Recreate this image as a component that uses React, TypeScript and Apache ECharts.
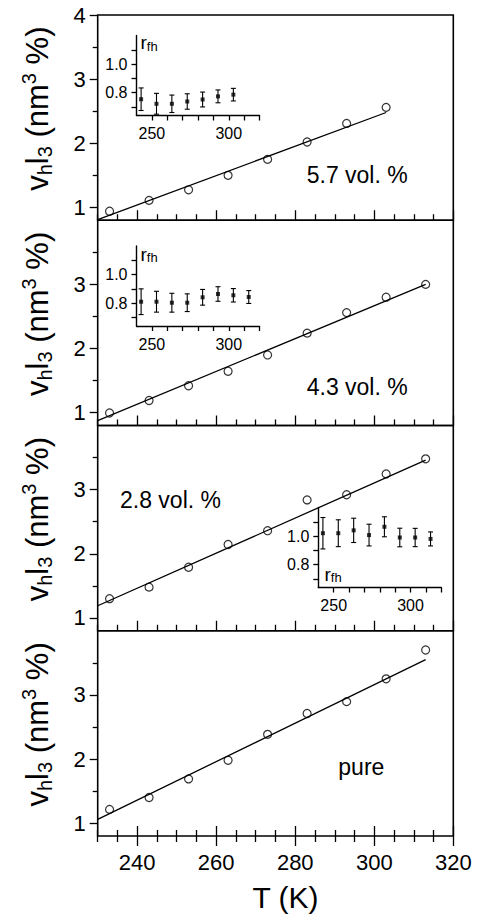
import React, { useEffect, useRef } from 'react';
import * as echarts from 'echarts';

const FONT = '"Liberation Sans", Arial, Helvetica, sans-serif';

// ---- main panels: temperature (K) and v_h l_3 (nm^3 %) ----
const T_8 = [233, 243, 253, 263, 273, 283, 293, 303];
const T_9 = [233, 243, 253, 263, 273, 283, 293, 303, 313];
const V_57 = [0.94, 1.11, 1.275, 1.5, 1.75, 2.02, 2.31, 2.56];
const V_43 = [0.995, 1.19, 1.42, 1.645, 1.9, 2.24, 2.56, 2.8, 3.0];
const V_28 = [1.3, 1.48, 1.79, 2.145, 2.36, 2.84, 2.92, 3.245, 3.48];
const V_PURE = [1.215, 1.4, 1.69, 1.98, 2.385, 2.71, 2.895, 3.25, 3.7];

// linear fits (end points)
const FIT_T_57 = [230, 303];
const FIT_V_57 = [0.81, 2.48];
const FIT_T_43 = [230, 313];
const FIT_V_43 = [0.875, 3.0];
const FIT_T_28 = [230, 313];
const FIT_V_28 = [1.19, 3.46];
const FIT_T_PURE = [230, 313];
const FIT_V_PURE = [1.06, 3.55];

const PANEL_NAMES = ['5.7 vol. %', '4.3 vol. %', '2.8 vol. %', 'pure'];

// ---- insets: r_fh with error bars ----
const RT_7 = [243, 253, 263, 273, 283, 293, 303];
const RT_8 = [243, 253, 263, 273, 283, 293, 303, 313];
const R_57 = [0.754, 0.722, 0.722, 0.738, 0.752, 0.774, 0.786];
const RE_57 = [0.079, 0.073, 0.061, 0.054, 0.052, 0.045, 0.044];
const R_43 = [0.81, 0.81, 0.803, 0.803, 0.841, 0.864, 0.855, 0.843];
const RE_43 = [0.09, 0.073, 0.066, 0.062, 0.055, 0.051, 0.047, 0.045];
const R_28 = [1.02, 1.02, 1.04, 1.007, 1.065, 0.99, 0.99, 0.98];
const RE_28 = [0.11, 0.094, 0.085, 0.076, 0.07, 0.065, 0.064, 0.049];

// ---- tick values ----
const X_MAJOR = [240, 260, 280, 300, 320];
const X_MINOR = [230, 235, 245, 250, 255, 265, 270, 275, 285, 290, 295, 305, 310, 315];
const Y_MAJOR = [1, 2, 3, 4];
const Y_MAJOR_LOWER = [1, 2, 3];
const Y_MINOR = [1.5, 2.5, 3.5];
const IX_TICKS = [250, 260, 270, 280, 290, 300, 310, 320];
const IX_LABELS = [250, 300];
const IY_TICKS = [0.7, 0.8, 0.9, 1.0, 1.1];
const IY_LABELS = [0.8, 1.0];

function buildOption() {
  const L = 97.7;
  const W = 355.6;
  const TOP = 15;
  const H = 205.25;
  const black = '#000';

  const grids: any[] = [];
  for (let i = 0; i < 4; i++) {
    grids.push({
      left: L, width: W, top: TOP + i * H, height: H,
      show: true, borderColor: black, borderWidth: 1.6, backgroundColor: 'transparent',
    });
  }
  const insetPos = [
    { left: 136.5, top: 35.5 },
    { left: 136.5, top: 246 },
    { left: 318.3, top: 507.5 },
  ];
  insetPos.forEach((p) => grids.push({ left: p.left, top: p.top, width: 123, height: 80, show: false }));

  const xAxes: any[] = [];
  const yAxes: any[] = [];
  const tickStyle = { color: black, width: 1.3 };

  for (let i = 0; i < 4; i++) {
    xAxes.push({
      type: 'value', gridIndex: i, position: 'bottom', min: 230, max: 320,
      axisLine: { show: false, onZero: false }, splitLine: { show: false },
      axisTick: { show: true, inside: true, length: 10, lineStyle: tickStyle, customValues: X_MAJOR },
      axisLabel: { show: false },
    });
    xAxes.push({
      type: 'value', gridIndex: i, position: 'bottom', min: 230, max: 320,
      axisLine: { show: false, onZero: false }, splitLine: { show: false },
      axisTick: { show: true, inside: true, length: 6, lineStyle: tickStyle, customValues: X_MINOR },
      axisLabel: { show: false },
    });
    yAxes.push({
      type: 'value', gridIndex: i, position: 'left', min: 0.8, max: 4,
      axisLine: { show: false, onZero: false }, splitLine: { show: false },
      axisTick: { show: true, inside: false, length: 8, lineStyle: tickStyle, customValues: i === 0 ? Y_MAJOR : Y_MAJOR_LOWER },
      axisLabel: {
        show: true, customValues: i === 0 ? Y_MAJOR : Y_MAJOR_LOWER, fontSize: 22, margin: 12,
        color: black, fontFamily: FONT,
      },
    });
    yAxes.push({
      type: 'value', gridIndex: i, position: 'left', min: 0.8, max: 4,
      axisLine: { show: false, onZero: false }, splitLine: { show: false },
      axisTick: { show: true, inside: false, length: 5, lineStyle: tickStyle, customValues: Y_MINOR },
      axisLabel: { show: false },
    });
  }
  // outward ticks + labels on bottom panel (index 8, 9)
  xAxes.push({
    type: 'value', gridIndex: 3, position: 'bottom', min: 230, max: 320,
    axisLine: { show: false, onZero: false }, splitLine: { show: false },
    axisTick: { show: true, inside: false, length: 10, lineStyle: tickStyle, customValues: X_MAJOR },
    axisLabel: { show: true, customValues: X_MAJOR, fontSize: 22, margin: 15, color: black, fontFamily: FONT },
  });
  xAxes.push({
    type: 'value', gridIndex: 3, position: 'bottom', min: 230, max: 320,
    axisLine: { show: false, onZero: false }, splitLine: { show: false },
    axisTick: { show: true, inside: false, length: 6, lineStyle: tickStyle, customValues: X_MINOR },
    axisLabel: { show: false },
  });
  // insets x: 10,11,12 ; y: 8,9,10
  for (let j = 0; j < 3; j++) {
    xAxes.push({
      type: 'value', gridIndex: 4 + j, position: 'bottom', min: 240, max: 320,
      axisLine: { show: true, onZero: false, lineStyle: { color: black, width: 1.4 } },
      splitLine: { show: false },
      axisTick: { show: true, inside: false, length: 5, lineStyle: tickStyle, customValues: IX_TICKS },
      axisLabel: { show: true, customValues: IX_LABELS, fontSize: 16, margin: 10, color: black, fontFamily: FONT },
    });
    yAxes.push({
      type: 'value', gridIndex: 4 + j, position: 'left', min: 0.64, max: 1.2,
      axisLine: { show: true, onZero: false, lineStyle: { color: black, width: 1.4 } },
      splitLine: { show: false },
      axisTick: { show: true, inside: false, length: 5, lineStyle: tickStyle, customValues: IY_TICKS },
      axisLabel: {
        show: true, customValues: IY_LABELS, fontSize: 16, margin: 9, color: black, fontFamily: FONT,
        formatter: (v: number) => v.toFixed(1),
      },
    });
  }

  const mainSets = [
    { t: T_8, v: V_57, ft: FIT_T_57, fv: FIT_V_57 },
    { t: T_9, v: V_43, ft: FIT_T_43, fv: FIT_V_43 },
    { t: T_9, v: V_28, ft: FIT_T_28, fv: FIT_V_28 },
    { t: T_9, v: V_PURE, ft: FIT_T_PURE, fv: FIT_V_PURE },
  ];
  const series: any[] = [];
  mainSets.forEach((s, i) => {
    series.push({
      type: 'line', xAxisIndex: 2 * i, yAxisIndex: 2 * i,
      data: s.ft.map((t, k) => [t, s.fv[k]]),
      showSymbol: false, symbol: 'none', lineStyle: { color: black, width: 1.3 }, z: 2,
    });
    series.push({
      type: 'scatter', xAxisIndex: 2 * i, yAxisIndex: 2 * i,
      data: s.t.map((t, k) => [t, s.v[k]]),
      symbol: 'circle', symbolSize: 8,
      itemStyle: { color: 'rgba(255,255,255,0)', borderColor: black, borderWidth: 1.2 }, z: 3,
    });
  });

  const insetSets = [
    { t: RT_7, r: R_57, e: RE_57 },
    { t: RT_8, r: R_43, e: RE_43 },
    { t: RT_8, r: R_28, e: RE_28 },
  ];
  insetSets.forEach((s, j) => {
    series.push({
      type: 'custom', xAxisIndex: 10 + j, yAxisIndex: 8 + j,
      data: s.t.map((t, k) => [t, s.r[k] - s.e[k], s.r[k] + s.e[k]]),
      encode: { x: 0, y: [1, 2] },
      renderItem: (params: any, api: any) => {
        const x = api.value(0);
        const p1 = api.coord([x, api.value(1)]);
        const p2 = api.coord([x, api.value(2)]);
        const w = 2.5;
        const st = { stroke: black, lineWidth: 1.1 };
        return {
          type: 'group',
          children: [
            { type: 'line', shape: { x1: p1[0], y1: p1[1], x2: p2[0], y2: p2[1] }, style: st },
            { type: 'line', shape: { x1: p1[0] - w, y1: p1[1], x2: p1[0] + w, y2: p1[1] }, style: st },
            { type: 'line', shape: { x1: p2[0] - w, y1: p2[1], x2: p2[0] + w, y2: p2[1] }, style: st },
          ],
        };
      },
      z: 3,
    });
    series.push({
      type: 'scatter', xAxisIndex: 10 + j, yAxisIndex: 8 + j,
      data: s.t.map((t, k) => [t, s.r[k]]),
      symbol: 'rect', symbolSize: 4, itemStyle: { color: black }, z: 4,
    });
  });

  const yTitle = (cy: number) => ({
    type: 'text', x: 37, y: cy, rotation: Math.PI / 2,
    style: {
      text: '{a|v}{b|h}{a|l}{b|3}{a| (nm}{c|3}{a| %)}',
      align: 'center', verticalAlign: 'middle', fill: black,
      rich: {
        a: { fontSize: 31, lineHeight: 36, fontFamily: FONT, fill: black },
        b: { fontSize: 20, lineHeight: 16, verticalAlign: 'bottom', fontFamily: FONT, fill: black },
        c: { fontSize: 20, lineHeight: 20, verticalAlign: 'top', fontFamily: FONT, fill: black },
      },
    },
  });
  const rfh = (x: number, y: number) => ({
    type: 'text', x, y,
    style: {
      text: '{r|r}{s|fh}', align: 'left', verticalAlign: 'middle', fill: black,
      rich: {
        r: { fontSize: 19, lineHeight: 20, fontFamily: FONT, fill: black },
        s: { fontSize: 13, lineHeight: 11, verticalAlign: 'bottom', fontFamily: FONT, fill: black },
      },
    },
  });
  const note = (text: string, x: number, y: number) => ({
    type: 'text', x, y,
    style: { text, fontSize: 23, fontFamily: FONT, fill: black, align: 'left', verticalAlign: 'middle' },
  });

  const graphic: any[] = [];
  for (let i = 0; i < 4; i++) graphic.push(yTitle(TOP + i * H + H / 2 - 9));
  graphic.push(note(PANEL_NAMES[0], 306.7, 175));
  graphic.push(note(PANEL_NAMES[1], 306.7, 386.7));
  graphic.push(note(PANEL_NAMES[2], 120, 500));
  graphic.push(note(PANEL_NAMES[3], 338.3, 766.7));
  graphic.push(rfh(140.5, 42.5));
  graphic.push(rfh(140.5, 254));
  graphic.push(rfh(324.5, 574));
  graphic.push({
    type: 'text', x: 285.5, y: 897.5,
    style: { text: 'T (K)', fontSize: 30, fontFamily: FONT, fill: black, align: 'center', verticalAlign: 'middle' },
  });

  return {
    animation: false,
    backgroundColor: '#fff',
    grid: grids,
    xAxis: xAxes,
    yAxis: yAxes,
    series,
    graphic,
  };
}

export default function App() {
  const ref = useRef<HTMLDivElement>(null);
  useEffect(() => {
    if (!ref.current) return;
    const chart = echarts.init(ref.current, null, { renderer: 'svg' });
    chart.setOption(buildOption() as any);
    return () => chart.dispose();
  }, []);
  return (
    <div
      ref={ref}
      style={{ position: 'absolute', left: 0, top: 0, width: 481, height: 915, background: '#fff' }}
    />
  );
}
